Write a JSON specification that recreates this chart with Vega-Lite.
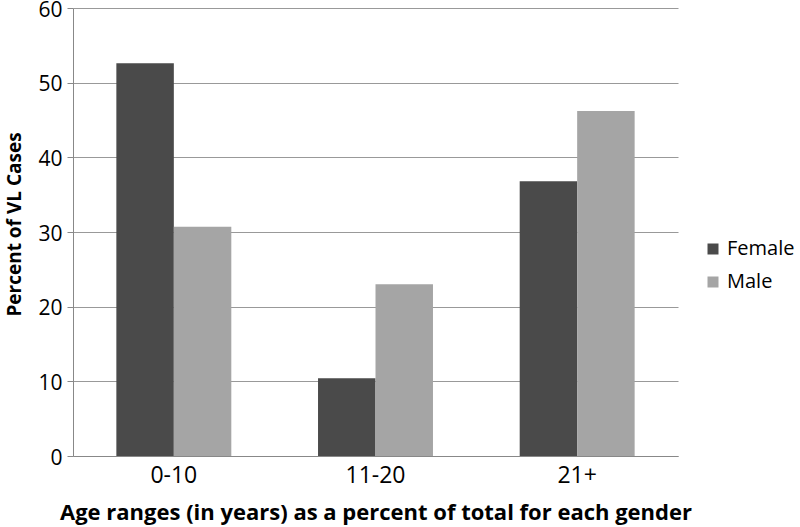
{
  "$schema": "https://vega.github.io/schema/vega-lite/v6.json",
  "width": 605,
  "height": 448,
  "autosize": {"type": "none"},
  "padding": {"left": 73, "top": 8, "right": 122, "bottom": 71},
  "background": "white",
  "data": {"values": [
    {"age": "0-10", "gender": "Female", "pct": 52.6},
    {"age": "0-10", "gender": "Male", "pct": 30.7},
    {"age": "11-20", "gender": "Female", "pct": 10.4},
    {"age": "11-20", "gender": "Male", "pct": 23.0},
    {"age": "21+", "gender": "Female", "pct": 36.8},
    {"age": "21+", "gender": "Male", "pct": 46.2}
  ]},
  "config": {
    "view": {"stroke": null},
    "font": "Open Sans"
  },
  "mark": {"type": "bar"},
  "encoding": {
    "x": {
      "field": "age", "type": "nominal", "sort": ["0-10", "11-20", "21+"],
      "scale": {"paddingInner": 0.43, "paddingOuter": 0.215},
      "axis": {
        "title": "Age ranges (in years) as a percent of total for each gender",
        "titleFont": "Open Sans", "titleFontSize": 22, "titleFontWeight": "bold", "titleColor": "black",
        "titleBaseline": "alphabetic", "titleY": 63,
        "labelFont": "Open Sans", "labelFontSize": 23, "labelColor": "black", "labelAngle": 0,
        "labelBaseline": "alphabetic", "labelPadding": 26,
        "ticks": false, "tickSize": 0, "domainColor": "#888888", "domainWidth": 1
      }
    },
    "xOffset": {"field": "gender", "type": "nominal", "sort": ["Female", "Male"]},
    "y": {
      "field": "pct", "type": "quantitative",
      "scale": {"domain": [0, 60], "nice": false},
      "axis": {
        "title": "Percent of VL Cases",
        "titleFont": "Open Sans", "titleFontSize": 19, "titleFontWeight": "bold", "titleColor": "black",
        "titleBaseline": "alphabetic", "titleX": -53, "titleY": 216, "titleAngle": 270,
        "labelFont": "Open Sans", "labelFontSize": 21, "labelColor": "black", "labelPadding": 5, "labelOffset": 2,
        "values": [0, 10, 20, 30, 40, 50, 60],
        "tickSize": 6, "tickColor": "#888888", "domainColor": "#888888",
        "grid": true, "gridColor": "#999999", "gridWidth": 1
      }
    },
    "color": {
      "field": "gender", "type": "nominal",
      "scale": {"domain": ["Female", "Male"], "range": ["#4a4a4a", "#a5a5a5"]},
      "legend": {
        "title": null, "orient": "none", "legendX": 630, "legendY": 231,
        "symbolType": "square", "symbolSize": 121, "symbolStrokeWidth": 0,
        "labelFont": "Open Sans", "labelFontSize": 20, "labelColor": "black", "labelLimit": 200,
        "rowPadding": 13, "labelOffset": 4, "padding": 0
      }
    }
  }
}
